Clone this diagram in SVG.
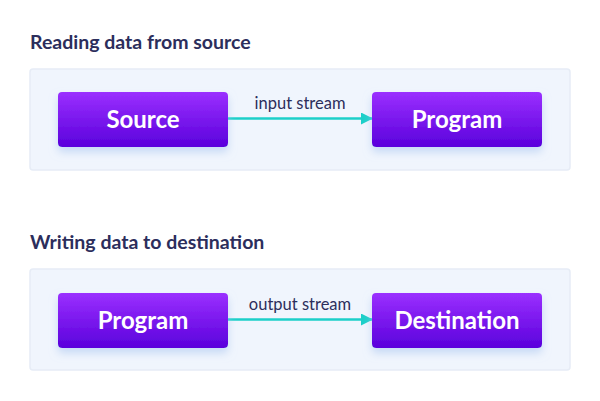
<svg xmlns="http://www.w3.org/2000/svg" width="600" height="401" viewBox="0 0 600 401">
<defs>
<linearGradient id="g" x1="0" y1="0" x2="0" y2="1">
<stop offset="0" stop-color="#9b30ff"/>
<stop offset="1" stop-color="#5a00dc"/>
</linearGradient>
<filter id="sh" x="-20%" y="-20%" width="140%" height="160%">
<feDropShadow dx="0" dy="5" stdDeviation="4" flood-color="#a9c6f0" flood-opacity="0.6"/>
</filter>
<marker id="ah" markerWidth="12" markerHeight="12" refX="11" refY="6" orient="auto" markerUnits="userSpaceOnUse">
<path d="M0,0 L12,6 L0,12 Z" fill="#1ccfc9"/>
</marker>
<style>
.title{font-family:Lato,"Liberation Sans",sans-serif;font-weight:bold;font-size:19.5px;fill:#2c2e5c}
.panel{fill:#f0f5fd;stroke:#e6ecf6;stroke-width:1.5}
.box{fill:url(#g);filter:url(#sh)}
.bl{font-family:Lato,"Liberation Sans",sans-serif;font-weight:bold;font-size:24px;fill:#ffffff;text-anchor:middle}
.el{font-family:Lato,"Liberation Sans",sans-serif;font-size:16.5px;fill:#2c2e5c;text-anchor:middle}
.conn{stroke:#1ccfc9;stroke-width:2.5;fill:none}
</style>
</defs>
<rect width="600" height="401" fill="#ffffff"/>
<text class="title" x="30" y="49">Reading data from source</text>
<rect class="panel" x="30" y="69" width="540" height="101" rx="3"/>
<text class="title" x="30" y="249">Writing data to destination</text>
<rect class="panel" x="30" y="269" width="540" height="101" rx="3"/>
<g id="connectors">
<line class="conn" x1="228" y1="118.5" x2="372" y2="118.5" marker-end="url(#ah)"/>
<text class="el" x="300" y="109">input stream</text>
<line class="conn" x1="228" y1="319.5" x2="372" y2="319.5" marker-end="url(#ah)"/>
<text class="el" x="300" y="310">output stream</text>
</g>
<g id="source">
<rect class="box" x="58" y="92" width="170" height="55" rx="4"/>
<text class="bl" x="143" y="128">Source</text>
</g>
<g id="program1">
<rect class="box" x="372" y="92" width="170" height="55" rx="4"/>
<text class="bl" x="457" y="128">Program</text>
</g>
<g id="program2">
<rect class="box" x="58" y="293" width="170" height="55" rx="4"/>
<text class="bl" x="143" y="329">Program</text>
</g>
<g id="destination">
<rect class="box" x="372" y="293" width="170" height="55" rx="4"/>
<text class="bl" x="457" y="329">Destination</text>
</g>
</svg>
